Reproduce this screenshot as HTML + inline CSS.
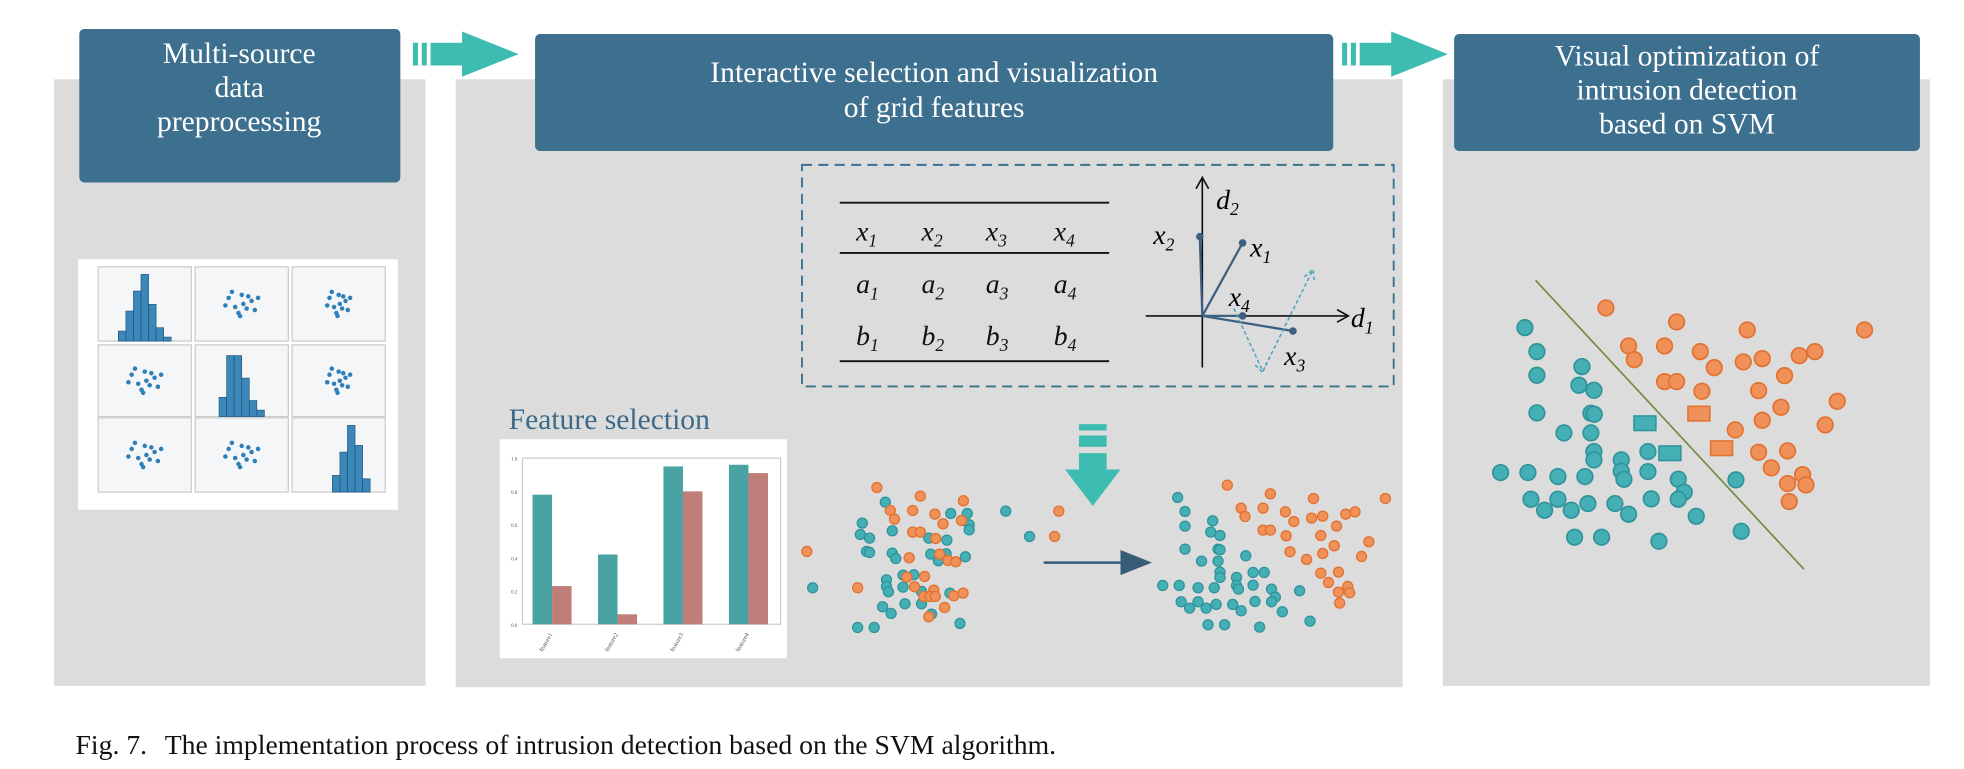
<!DOCTYPE html>
<html><head><meta charset="utf-8"><style>
html,body{margin:0;padding:0;background:#fff;}
svg{display:block;}
text{font-family:"Liberation Serif",serif;}
</style></head><body>
<svg id="fig" width="1964" height="769" viewBox="0 0 1560 611" preserveAspectRatio="none" xmlns="http://www.w3.org/2000/svg">
<rect width="1560" height="611" fill="#fff"/>
<rect x="43" y="63" width="295" height="482" fill="#dcdcdc"/>
<rect x="362" y="63" width="752" height="483" fill="#dcdcdc"/>
<rect x="1146" y="63" width="387" height="482" fill="#dcdcdc"/>
<g>
<rect x="63" y="23" width="255" height="122" rx="4" fill="#3d6f8e"/>
<text x="190" y="50" fill="#fff" font-size="23.5" text-anchor="middle">Multi-source</text>
<text x="190" y="77" fill="#fff" font-size="23.5" text-anchor="middle">data</text>
<text x="190" y="104" fill="#fff" font-size="23.5" text-anchor="middle">preprocessing</text>
</g>
<g>
<rect x="425" y="27" width="634" height="93" rx="4" fill="#3d6f8e"/>
<text x="742" y="65" fill="#fff" font-size="23.5" text-anchor="middle">Interactive selection and visualization</text>
<text x="742" y="93" fill="#fff" font-size="23.5" text-anchor="middle">of grid features</text>
</g>
<g>
<rect x="1155" y="27" width="370" height="93" rx="4" fill="#3d6f8e"/>
<text x="1340" y="52" fill="#fff" font-size="23.5" text-anchor="middle">Visual optimization of</text>
<text x="1340" y="79" fill="#fff" font-size="23.5" text-anchor="middle">intrusion detection</text>
<text x="1340" y="106" fill="#fff" font-size="23.5" text-anchor="middle">based on SVM</text>
</g>
<g fill="#3dbdb1">
<rect x="328" y="34" width="4" height="18"/><rect x="335" y="34" width="4" height="18"/><rect x="342" y="34" width="26" height="18"/>
<polygon points="367,25 412,43 367,61"/>
</g>
<g fill="#3dbdb1">
<rect x="1066" y="34" width="4" height="18"/><rect x="1073" y="34" width="4" height="18"/><rect x="1080" y="34" width="26" height="18"/>
<polygon points="1105,25 1150,43 1105,61"/>
</g>
<g fill="#3dbdb1">
<rect x="857" y="337" width="22" height="5"/><rect x="857" y="346" width="22" height="9"/><rect x="857" y="360" width="22" height="14"/>
<polygon points="846,373 890,373 868,402"/>
</g>
<g>
<line x1="829" y1="447" x2="895" y2="447" stroke="#385d78" stroke-width="2"/>
<polygon points="890,437 915,447 890,457" fill="#385d78"/>
</g>
<rect x="637" y="131" width="470" height="176" fill="none" stroke="#3d6f8e" stroke-width="1.5" stroke-dasharray="8 5"/>
<g font-style="italic" font-size="22" fill="#111">
<line x1="667" y1="161" x2="881" y2="161" stroke="#111" stroke-width="1.5"/>
<line x1="667" y1="201" x2="881" y2="201" stroke="#111" stroke-width="1.5"/>
<line x1="667" y1="287" x2="881" y2="287" stroke="#111" stroke-width="1.5"/>
<g id="tbl"></g>
</g>
<g>
<line x1="955" y1="292" x2="955" y2="142" stroke="#111" stroke-width="1.3"/>
<polyline points="950,150 955,141 960,150" fill="none" stroke="#111" stroke-width="1.3"/>
<line x1="910" y1="251" x2="1070" y2="251" stroke="#111" stroke-width="1.3"/>
<polyline points="1062,246 1071,251 1062,256" fill="none" stroke="#111" stroke-width="1.3"/>
<text x="966" y="166" font-style="italic" font-size="22">d<tspan font-size="14" dy="5">2</tspan></text>
<text x="1073" y="260" font-style="italic" font-size="22">d<tspan font-size="14" dy="5">1</tspan></text>
<g stroke="#3d6080" stroke-width="1.8">
<line x1="955" y1="251" x2="953" y2="188"/><line x1="955" y1="251" x2="987" y2="193"/>
<line x1="955" y1="251" x2="987" y2="251"/><line x1="955" y1="251" x2="1027" y2="263"/>
</g>
<g fill="#3d6080"><circle cx="953" cy="188" r="3"/><circle cx="987" cy="193" r="3"/><circle cx="987" cy="251" r="3"/><circle cx="1027" cy="263" r="3"/></g>
<g stroke="#4aa3c0" stroke-width="1.2" stroke-dasharray="3 2" fill="none">
<line x1="1003" y1="295" x2="1042" y2="216"/><line x1="980" y1="245" x2="1003" y2="295"/>
<polyline points="1036,220 1043,214 1044,224"/><polyline points="997,290 1003,296 1006,288"/>
</g>
<g font-style="italic" font-size="22">
<text x="916" y="194">x<tspan font-size="14" dy="5">2</tspan></text>
<text x="993" y="204">x<tspan font-size="14" dy="5">1</tspan></text>
<text x="976" y="243">x<tspan font-size="14" dy="5">4</tspan></text>
<text x="1020" y="290">x<tspan font-size="14" dy="5">3</tspan></text>
</g>
</g>
<text x="404" y="341" font-size="23.5" fill="#3d6a8a">Feature selection</text>
<g>
<rect x="397" y="349" width="228" height="174" fill="#fff"/>
<rect x="415" y="364" width="205" height="132" fill="none" stroke="#ccc" stroke-width="1"/>
<g id="bars"></g>
</g>
<g>
<rect x="62" y="206" width="254" height="199" fill="#fff"/>
<g id="matrix"></g>
</g>
<g id="scL"></g>
<g id="scR"></g>
<g id="svm"></g>
<text x="60" y="599" font-size="22" fill="#111">Fig. 7.<tspan dx="14">The implementation process of intrusion detection based on the SVM algorithm.</tspan></text>
</svg>
<script>
const NS='http://www.w3.org/2000/svg';
function mk(p,tag,at){const e=document.createElementNS(NS,tag);for(const k in at)e.setAttribute(k,at[k]);p.appendChild(e);return e;}
const tblLetters=['x','a','b'];
const tblCols=[690,742,793,847];
const tblRows=[185,227,268];
const tbl=document.getElementById('tbl');
tblLetters.forEach((l,r)=>tblCols.forEach((cx,c)=>{const t=mk(tbl,'text',{x:cx-10,y:tblRows[r]+6});


t.textContent=l;const s=mk(t,'tspan',{'font-size':14,dy:5});s.textContent=String(c+1);}));
const barCats=['feature1','feature2','feature3','feature4'];
const barTeal=[0.78,0.42,0.95,0.96];
const barPink=[0.23,0.06,0.80,0.91];
const barTicks=['0.0','0.2','0.4','0.6','0.8','1.0'];
const by=v=>496-v*132, bx=i=>423+i*52;
const bars=document.getElementById('bars');
barTicks.forEach(t=>{const e=mk(bars,'text',{x:411,y:by(+t)+2,'font-size':4,'text-anchor':'end',fill:'#555'});


e.textContent=t;});
barCats.forEach((c,i)=>{
const a=mk(bars,'rect',{x:bx(i),y:by(barTeal[i]),width:15.5,height:496-by(barTeal[i]),fill:'#4aa3a3'});


const b=mk(bars,'rect',{x:bx(i)+15.5,y:by(barPink[i]),width:15.5,height:496-by(barPink[i]),fill:'#c07e7a'});


const t=mk(bars,'text',{x:bx(i)+16,y:504,'font-size':5,fill:'#555','text-anchor':'end',transform:`rotate(-60 ${bx(i)+16} 504)`});


t.textContent=c;});
const cellX=[78,155,232], cellY=[212,274,332], cellW=74, cellH=[59,57,59];
const hist1=[0.15,0.45,0.75,1.0,0.55,0.2,0.06];
const hist2=[0.3,0.95,0.95,0.6,0.25,0.1];
const hist3=[0.25,0.6,1.0,0.7,0.2];
const dotsA=[[-8,-4],[-4,2],[0,-6],[3,3],[6,-2],[-2,6],[8,4],[-10,1],[1,0],[4,-5],[-6,-8],[10,-4],[-1,8]];
const mat=document.getElementById('matrix');
for(let r=0;r<3;r++)for(let c=0;c<3;c++){
const cx=cellX[c],cy=cellY[r],h=cellH[r];
const cell=mk(mat,'rect',{x:cx,y:cy,width:cellW,height:h,fill:'#f4f6f8',stroke:'#ccc','stroke-width':1});


if(r===c){const hd=[hist1,hist2,hist3][r];const w=6;const x0=cx+cellW/2-hd.length*w/2+(r===2?10:0);
hd.forEach((v,i)=>{const b=mk(mat,'rect',{x:x0+i*w,y:cy+h-v*(h-6),width:w,height:v*(h-6),fill:'#3a87b8',stroke:'#1d4f77','stroke-width':0.5});

});}
else{dotsA.forEach(([dx,dy])=>{const d=mk(mat,'circle',{cx:cx+cellW/2+dx*1.3*(c===2?0.7:1),cy:cy+h/2+dy*1.2,r:1.8,fill:'#2f7fb8'});

});}
}
const sxA=z=>635.4+z/3.273, syA=z=>373.3+z/3.777;
const leftTeal=[[222,97],[162,160],[157,194],[181,205],[240,183],[173,245],[181,248],[240,250],[249,266],[335,205],[382,211],[392,131],[435,131],[440,165],[440,180],[340,253],[380,252],[360,273],[430,261],[225,330],[225,350],[230,366],[268,316],[296,315],[268,352],[316,365],[390,370],[215,411],[237,431],[273,402],[316,402],[342,433],[150,473],[193,473],[416,461],[33,354],[535,124],[597,200]];
const leftOrange=[[200,53],[313,79],[425,93],[235,122],[246,148],[293,122],[351,133],[372,162],[420,152],[293,187],[313,187],[353,206],[284,264],[363,253],[385,272],[405,276],[18,245],[278,322],[324,320],[298,351],[348,361],[150,354],[322,380],[338,380],[352,380],[400,378],[424,370],[376,413],[335,441],[673,124],[662,200]];
const rightTeal=[[982,83],[1001,125],[1001,169],[1073,153],[1068,187],[1092,197],[1001,238],[1087,238],[1092,240],[1044,274],[1087,274],[1159,258],[1092,307],[1092,323],[1135,323],[1135,347],[1140,358],[1178,308],[1207,308],[1178,346],[1226,358],[1236,382],[1226,396],[1299,363],[943,347],[986,347],[1035,354],[1077,354],[991,396],[1035,396],[1013,415],[1056,415],[1082,404],[1125,404],[1147,423],[1183,395],[1254,426],[1061,465],[1104,465],[1195,472],[1326,454]];
const rightOrange=[[1111,46],[1223,72],[1335,86],[1522,86],[1147,115],[1157,140],[1204,115],[1262,126],[1284,155],[1330,145],[1359,139],[1419,133],[1443,126],[1395,169],[1204,181],[1223,181],[1264,198],[1354,197],[1479,216],[1389,228],[1274,246],[1317,269],[1359,251],[1460,260],[1354,310],[1400,307],[1374,338],[1424,350],[1400,367],[1429,369],[1403,400]];
const TEAL='#45afb6',TEALS='#2f939a',ORG='#ef9158',ORGS='#e2702e';
function dots(g,arr,sx,sy,r,f,s,name){arr.forEach(([x,y])=>{const c=mk(g,'circle',{cx:sx(x),cy:sy(y),r:r,fill:f,stroke:s,'stroke-width':r>5?1.3:1});

});}
const gL=document.getElementById('scL'),gR=document.getElementById('scR');
dots(gL,leftTeal,sxA,syA,4,TEAL,TEALS,'point-normal');
dots(gL,leftOrange,sxA,syA,4,ORG,ORGS,'point-intrusion');
dots(gR,rightTeal,sxA,syA,4,TEAL,TEALS,'point-normal');
dots(gR,rightOrange,sxA,syA,4,ORG,ORGS,'point-intrusion');
const sxB=z=>1175.5+z/3.777, syB=z=>214.5+z/3.777;
const svmTeal=[[135,173],[171,245],[171,316],[306,290],[297,346],[342,361],[171,429],[333,430],[343,433],[252,489],[333,489],[342,545],[342,570],[424,570],[424,604],[432,628],[504,545],[504,605],[595,628],[613,667],[595,688],[62,608],[144,608],[234,620],[315,620],[153,688],[194,721],[234,688],[274,721],[324,701],[405,701],[446,733],[514,687],[649,739],[768,630],[784,784],[284,802],[365,802],[537,814]];
const svmOrange=[[378,114],[590,156],[802,180],[1154,180],[446,228],[463,269],[554,228],[661,245],[703,293],[790,276],[847,266],[958,257],[1005,245],[914,317],[554,335],[590,335],[666,364],[836,362],[903,412],[1072,394],[847,451],[1036,465],[766,480],[836,547],[923,543],[874,594],[968,614],[923,641],[978,645],[928,695]];
const svmTealSV=[[495,460],[570,550]];
const svmOrangeSV=[[657,431],[725,535]];
const svmLine=[[167,31],[972,898]];
const gS=document.getElementById('svm');
const ln=mk(gS,'line',{x1:sxB(svmLine[0][0]),y1:syB(svmLine[0][1]),x2:sxB(svmLine[1][0]),y2:syB(svmLine[1][1]),stroke:'#6e8a3f','stroke-width':1.3});


dots(gS,svmTeal,sxB,syB,6.2,TEAL,TEALS,'svm-point-normal');
dots(gS,svmOrange,sxB,syB,6.2,ORG,ORGS,'svm-point-intrusion');
function sq(arr,f,s,name){arr.forEach(([x,y])=>{const r=mk(gS,'rect',{x:sxB(x)-8.7,y:syB(y)-5.8,width:17.4,height:11.6,fill:f,stroke:s,'stroke-width':1.2});

});}
sq(svmTealSV,TEAL,TEALS,'support-vector-normal');
sq(svmOrangeSV,ORG,ORGS,'support-vector-intrusion');
</script>
</body></html>
